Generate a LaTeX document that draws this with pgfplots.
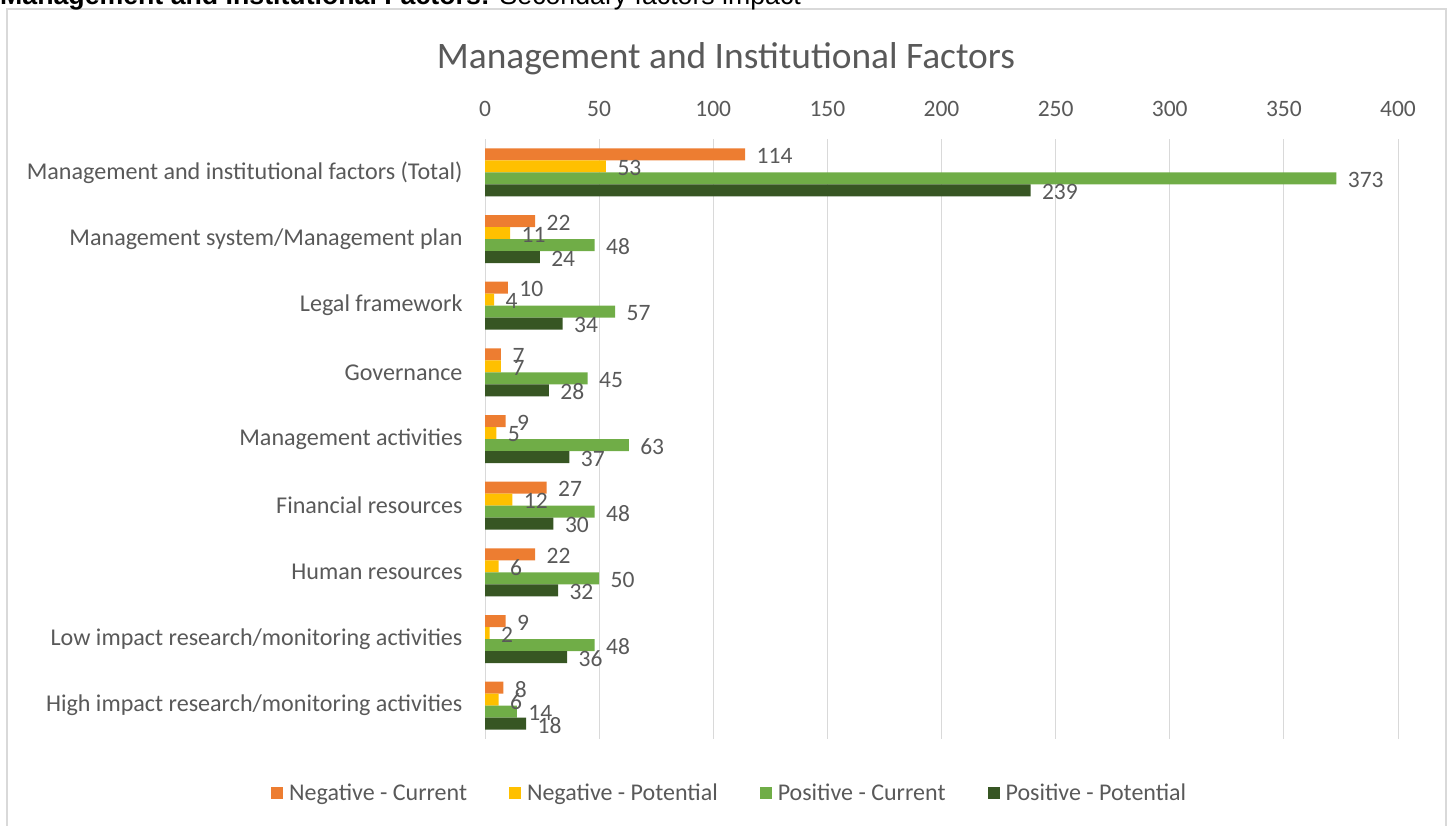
\documentclass[border=0pt]{standalone}
\usepackage{pgfplots}
\pgfplotsset{compat=1.18}
\usepackage{fontspec}
\setmainfont{Carlito}
\newfontfamily\arialf{Liberation Sans}
\definecolor{negcur}{HTML}{ED7D31}
\definecolor{negpot}{HTML}{FFC000}
\definecolor{poscur}{HTML}{70AD47}
\definecolor{pospot}{HTML}{375623}
\definecolor{txt}{HTML}{595959}
\definecolor{gridgray}{HTML}{D9D9D9}
\begin{document}
\begin{tikzpicture}[x=1pt,y=1pt]
\useasboundingbox (0,0) rectangle (1450,825);
\draw[color=gridgray, line width=1.5pt] (7,-5) rectangle (1446,816);
\node[anchor=base west, inner sep=0pt, font=\arialf\fontsize{26.7}{30}\selectfont] at (0,820) {\textbf{Management and Institutional Factors:} Secondary factors impact};
\node[text=txt, anchor=base, inner sep=0pt, font=\fontsize{37.4}{44}\selectfont] at (726,756) {Management and Institutional Factors};
\begin{axis}[
  at={(485pt,86pt)}, anchor=south west,
  scale only axis, width=913pt, height=600pt,
  xbar, bar width=12pt,
  xmin=0, xmax=400, ymin=-0.5, ymax=8.5, y dir=reverse,
  xtick={0,50,...,400}, xticklabel pos=upper,
  ytick={0,...,8},
  yticklabels={Management and institutional factors (Total),Management system/Management plan,Legal framework,Governance,Management activities,Financial resources,Human resources,Low impact research/monitoring activities,High impact research/monitoring activities},
  axis line style={draw=none}, major tick length=0pt,
  xmajorgrids, grid style={gridgray, line width=1pt},
  /pgf/number format/assume math mode=true,
  ticklabel style={text=txt, font=\fontsize{23.5}{27}\selectfont},
  yticklabel style={font=\fontsize{24.1}{28}\selectfont, xshift=-19pt},
  xticklabel style={yshift=19pt},
  nodes near coords,
  nodes near coords style={text=txt, font=\fontsize{23.5}{27}\selectfont, anchor=west, xshift=8pt, yshift=-1.5pt},
  legend columns=4,
  legend style={at={(0.268,-0.09)}, anchor=center, draw=none, fill=none, text=txt, font=\fontsize{24}{28}\selectfont,
    /tikz/every odd column/.append style={column sep=4pt},
    /tikz/every even column/.append style={column sep=40pt}},
  legend image code/.code={\fill[#1] (0pt,-6pt) rectangle (12pt,6pt);},
]
\addplot[fill=negcur, draw=none, bar shift=18pt] coordinates {(114,0) (22,1) (10,2) (7,3) (9,4) (27,5) (22,6) (9,7) (8,8)};
\addplot[fill=negpot, draw=none, bar shift=6pt] coordinates {(53,0) (11,1) (4,2) (7,3) (5,4) (12,5) (6,6) (2,7) (6,8)};
\addplot[fill=poscur, draw=none, bar shift=-6pt] coordinates {(373,0) (48,1) (57,2) (45,3) (63,4) (48,5) (50,6) (48,7) (14,8)};
\addplot[fill=pospot, draw=none, bar shift=-18pt] coordinates {(239,0) (24,1) (34,2) (28,3) (37,4) (30,5) (32,6) (36,7) (18,8)};
\legend{Negative - Current, Negative - Potential, Positive - Current, Positive - Potential}
\end{axis}
\end{tikzpicture}
\end{document}
